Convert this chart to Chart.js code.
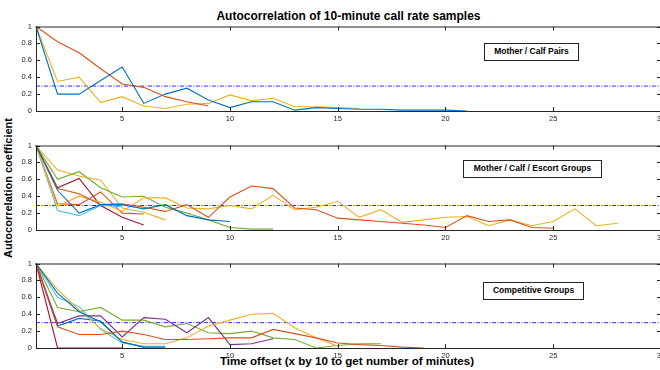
<!DOCTYPE html>
<html>
<head>
<meta charset="utf-8">
<script src="https://cdn.jsdelivr.net/npm/chart.js@4"></script>
<style>
  body { margin: 0; width: 660px; height: 370px; overflow: hidden; background: #fff; position: relative;
         font-family: "Liberation Sans", Arial, sans-serif; }
  canvas.panel { position: absolute; left: 0; }
  .txt { position: absolute; font-weight: bold; color: #000; white-space: nowrap; }
  .box { position: absolute; border: 1px solid #262626; background: #fff; font-weight: bold; font-size: 8.5px;
         text-align: center; box-sizing: border-box; padding-top: 2px; }
</style>
</head>
<body>
<div class="txt" style="left:0;width:697px;top:9px;text-align:center;font-size:12px;">Autocorrelation of 10-minute call rate samples</div>
<div class="txt" style="left:0;width:694px;top:354px;text-align:center;font-size:11.6px;">Time offset (x by 10 to get number of minutes)</div>
<div class="txt" style="left:8px;top:188px;font-size:11px;transform:translate(-50%,-50%) rotate(-90deg);">Autocorrelation coefficient</div>

<canvas id="c1" class="panel" width="662" height="108" style="top:18px"></canvas>
<canvas id="c2" class="panel" width="662" height="108" style="top:137px"></canvas>
<canvas id="c3" class="panel" width="662" height="108" style="top:255px"></canvas>

<div class="box" style="left:484px;top:43px;width:95px;height:18px;">Mother / Calf Pairs</div>
<div class="box" style="left:463px;top:160px;width:139px;height:18px;">Mother / Calf / Escort Groups</div>
<div class="box" style="left:483px;top:282px;width:101px;height:18px;">Competitive Groups</div>

<script>
// x runs from lag 1 to lag 30
const xMin = 1, xMax = 30;
const xTicks = [5, 10, 15, 20, 25, 30];
const yTicks = [0, 0.2, 0.4, 0.6, 0.8, 1];

// Mother / Calf Pairs
const pairsBlue   = [1, 0.20, 0.20, 0.36, 0.52, 0.09, 0.20, 0.27, 0.13, 0.04, 0.11, 0.11, 0.01, 0.04, 0.03, 0.02, 0.02, 0.01, 0.01, 0.01, 0.0];
const pairsOrange = [1, 0.82, 0.69, 0.50, 0.32, 0.28, 0.17, 0.11, 0.06];
const pairsYellow = [1, 0.35, 0.40, 0.10, 0.17, 0.06, 0.03, 0.08, 0.09, 0.19, 0.12, 0.15, 0.05, 0.05, 0.04, 0.03];
const pairsCutoff = 0.295;

// Mother / Calf / Escort Groups
const escortBlue      = [1, 0.47, 0.20, 0.30, 0.30, 0.25, 0.30, 0.17, 0.12, 0.10];
const escortOrange    = [1, 0.49, 0.43, 0.30, 0.31, 0.27, 0.22, 0.30, 0.15, 0.39, 0.52, 0.49, 0.26, 0.24, 0.14, 0.12, 0.10, 0.08, 0.06, 0.03, 0.17, 0.10, 0.12, 0.03, 0.02];
const escortYellow    = [1, 0.28, 0.40, 0.33, 0.22, 0.38, 0.38, 0.26, 0.25, 0.29, 0.25, 0.41, 0.24, 0.27, 0.34, 0.15, 0.24, 0.09, 0.12, 0.15, 0.16, 0.05, 0.12, 0.05, 0.10, 0.25, 0.05, 0.08];
const escortGreen     = [1, 0.60, 0.69, 0.50, 0.39, 0.40, 0.27, 0.20, 0.12, 0.03, 0.01, 0.01];
const escortLightBlue = [1, 0.23, 0.17, 0.29, 0.28];
const escortDarkRed   = [1, 0.50, 0.61, 0.29, 0.15, 0.06];
const escortOrange2   = [1, 0.31, 0.30, 0.45, 0.20, 0.19];
const escortYellow2   = [1, 0.71, 0.64, 0.59, 0.26, 0.21, 0.12];
const escortCutoff = 0.29;

// Competitive Groups
const compDarkRed   = [1, 0, 0, 0, 0];
const compBlue      = [1, 0.65, 0.43, 0.31, 0.07, 0.01, 0.01];
const compBlue2     = [1, 0.26, 0.35, 0.32, 0.07, 0.01];
const compLightBlue = [1, 0.60, 0.49, 0.22, 0.06, 0.02, 0.02];
const compYellow    = [1, 0.69, 0.45, 0.23, 0.10, 0.05, 0.05, 0.12, 0.26, 0.33, 0.40, 0.41, 0.24, 0.12, 0.02];
const compGreen     = [1, 0.48, 0.43, 0.48, 0.33, 0.33, 0.25, 0.29, 0.18, 0.17, 0.20, 0.12, 0.10, 0.0, 0.03, 0.05, 0.05];
const compOrange    = [1, 0.25, 0.16, 0.16, 0.20, 0.16, 0.10, 0.10, 0.11, 0.12, 0.12, 0.22, 0.17, 0.12, 0.06, 0.04, 0.03, 0.01, 0.0];
const compPurple    = [1, 0.29, 0.38, 0.38, 0.13, 0.36, 0.34, 0.18, 0.36, 0.04, 0.05, 0.11];
const compCutoff = 0.30;

const C = {
  blue: '#0072BD', orange: '#D95319', yellow: '#EDB120', purple: '#7E2F8E',
  green: '#77AC30', lightblue: '#4DBEEE', darkred: '#A2142F'
};
const AXIS = '#262626';
const TICKFONT = { family: '"Liberation Sans", Arial, sans-serif', size: 7.5 };

function lagSeries(vals, color) {
  return {
    data: vals.map((v, i) => ({ x: xMin + i, y: v })),
    borderColor: color, borderWidth: 1.1, pointRadius: 0, fill: false, tension: 0, clip: false
  };
}

function cutoffLine(level) {
  return {
    data: [{ x: xMin, y: level }, { x: xMax, y: level }],
    borderColor: '#2b2bff', borderWidth: 1, borderDash: [4, 1.5, 1, 1.5],
    pointRadius: 0, fill: false, clip: false
  };
}

// MATLAB-like box with inward ticks on all sides
const framePlugin = {
  id: 'frame',
  afterDatasetsDraw(chart) {
    const { ctx, chartArea: a, scales: { x, y } } = chart;
    ctx.save();
    ctx.strokeStyle = AXIS;
    ctx.lineWidth = 1;
    ctx.strokeRect(a.left + 0.5, a.top + 0.5, a.right - a.left - 1, a.bottom - a.top);
    ctx.beginPath();
    xTicks.forEach(t => {
      const px = Math.round(x.getPixelForValue(t)) + 0.5;
      ctx.moveTo(px, a.bottom); ctx.lineTo(px, a.bottom - 4);
      ctx.moveTo(px, a.top); ctx.lineTo(px, a.top + 4);
    });
    yTicks.forEach(t => {
      const py = Math.round(y.getPixelForValue(t)) + 0.5;
      ctx.moveTo(a.left, py); ctx.lineTo(a.left + 4, py);
      ctx.moveTo(a.right, py); ctx.lineTo(a.right - 4, py);
    });
    ctx.stroke();
    ctx.restore();
  }
};

function makePanel(id, datasets) {
  new Chart(document.getElementById(id), {
    type: 'line',
    data: { datasets: datasets },
    options: {
      responsive: false,
      animation: false,
      events: [],
      layout: { padding: { top: 8, right: 1, left: 0, bottom: 0 } },
      plugins: { legend: { display: false }, tooltip: { enabled: false } },
      scales: {
        x: {
          type: 'linear', min: xMin, max: xMax,
          afterBuildTicks: s => { s.ticks = xTicks.map(v => ({ value: v })); },
          afterFit: s => { s.height = 15; s.paddingRight = 0; s.paddingLeft = 0; },
          grid: { display: false, drawTicks: false },
          border: { display: false },
          ticks: { color: AXIS, font: TICKFONT, padding: 3, maxRotation: 0 }
        },
        y: {
          min: 0, max: 1,
          afterBuildTicks: s => { s.ticks = yTicks.map(v => ({ value: v })); },
          afterFit: s => { s.width = 36; },
          grid: { display: false, drawTicks: false },
          border: { display: false },
          ticks: { color: AXIS, font: TICKFONT, padding: 4, callback: v => String(v) }
        }
      }
    },
    plugins: [framePlugin]
  });
}

makePanel('c1', [
  lagSeries(pairsBlue, C.blue),
  lagSeries(pairsOrange, C.orange),
  lagSeries(pairsYellow, C.yellow),
  cutoffLine(pairsCutoff)
]);

makePanel('c2', [
  lagSeries(escortBlue, C.blue),
  lagSeries(escortOrange, C.orange),
  lagSeries(escortYellow, C.yellow),
  lagSeries(escortGreen, C.green),
  lagSeries(escortLightBlue, C.lightblue),
  lagSeries(escortDarkRed, C.darkred),
  lagSeries(escortOrange2, C.orange),
  lagSeries(escortYellow2, C.yellow),
  cutoffLine(escortCutoff)
]);

makePanel('c3', [
  lagSeries(compBlue, C.blue),
  lagSeries(compOrange, C.orange),
  lagSeries(compYellow, C.yellow),
  lagSeries(compPurple, C.purple),
  lagSeries(compGreen, C.green),
  lagSeries(compLightBlue, C.lightblue),
  lagSeries(compDarkRed, C.darkred),
  lagSeries(compBlue2, C.blue),
  cutoffLine(compCutoff)
]);
</script>
</body>
</html>
